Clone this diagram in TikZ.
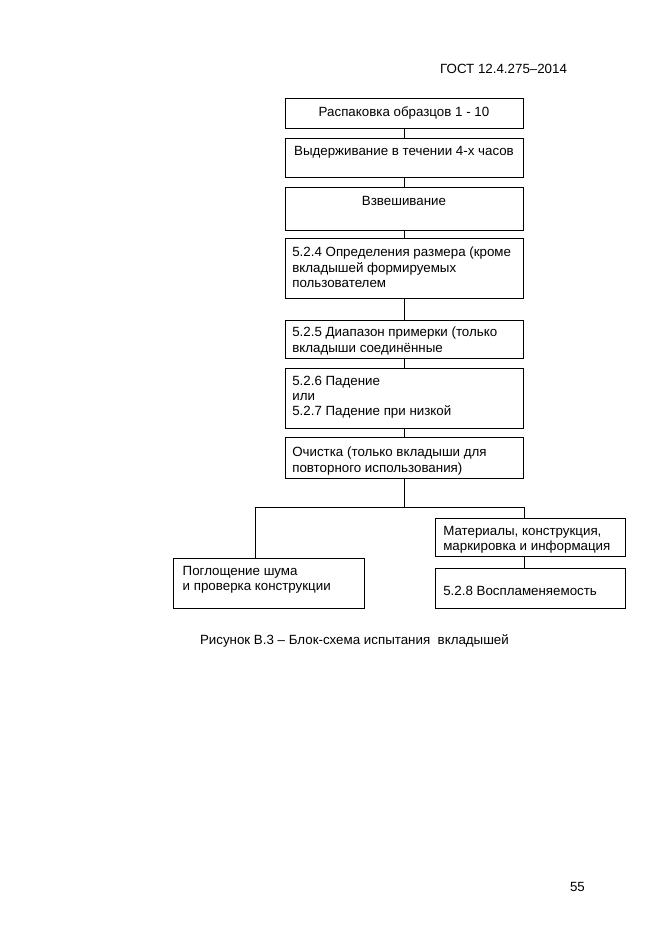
\documentclass[tikz,border=0pt]{standalone}
\usepackage{fontspec}
\setmainfont{Liberation Sans}
\begin{document}
\begin{tikzpicture}[x=0.9pt,y=-0.9pt,
  every node/.style={inner sep=0pt, outer sep=0pt},
  stepbox/.style={draw, line width=0.8pt, minimum width=214.2pt},
  sidebox/.style={draw, line width=0.8pt},
  conn/.style={line width=0.8pt},
  basefont/.style={font=\fontsize{12}{13.8}\selectfont},
  ctxt/.style={basefont, anchor=base},
  ltxt/.style={basefont, anchor=north west, align=left},
  btxt/.style={basefont, anchor=base west}
]
\fill[white] (0,0) rectangle (661,936);
\useasboundingbox (0,0) rectangle (661,936);

% header, caption, page number
\node[basefont, anchor=base east] (hdr) at (567,73) {ГОСТ 12.4.275–2014};
\node[btxt] (cap) at (200,644) {Рисунок В.3 – Блок-схема испытания \ вкладышей};
\node[btxt] (pg) at (570,891) {55};

% boxes
\node[stepbox, minimum height=27pt]   (b1) at (404,113) {};
\node[stepbox, minimum height=35.1pt] (b2) at (404,157.5) {};
\node[stepbox, minimum height=38.7pt] (b3) at (404,208.5) {};
\node[stepbox, minimum height=54pt]   (b4) at (404,268) {};
\node[stepbox, minimum height=34.2pt] (b5) at (404,339) {};
\node[stepbox, minimum height=54pt]   (b6) at (404,398) {};
\node[stepbox, minimum height=36.9pt] (b7) at (404,457.5) {};
\node[sidebox, minimum width=171.9pt, minimum height=45pt]  (L)  at (268.5,583) {};
\node[sidebox, minimum width=171pt,   minimum height=34.2pt] (R1) at (530,537) {};
\node[sidebox, minimum width=171pt,   minimum height=36pt]  (R2) at (530,588) {};

% texts
\node[ctxt] (t1) at (404,116.7) {Распаковка образцов 1 - 10};
\node[ctxt] (t2) at (404,155) {Выдерживание в течении 4-х часов};
\node[ctxt] (t3) at (404,205) {Взвешивание};
\node[ltxt] (t4) at (292.3,246) {\strut 5.2.4 Определения размера (кроме\\вкладышей формируемых\\пользователем};
\node[ltxt] (t5) at (292.3,326) {\strut 5.2.5 Диапазон примерки (только\\вкладыши соединённые};
\node[ltxt] (t6) at (292.3,374.3) {\strut 5.2.6 Падение\\или\\5.2.7 Падение при низкой};
\node[ltxt] (t7) at (292.3,446) {\strut Очистка (только вкладыши для\\повторного использования)};
\node[ltxt] (tL) at (182.7,564.3) {\strut Поглощение шума\\и проверка конструкции};
\node[ltxt] (tR1) at (443.3,524.3) {\strut Материалы, конструкция,\\маркировка и информация};
\node[btxt] (tR2) at (443.3,595) {5.2.8 Воспламеняемость};

% connectors
\draw[conn] (b1.south) -- (b2.north);
\draw[conn] (b2.south) -- (b3.north);
\draw[conn] (b3.south) -- (b4.north);
\draw[conn] (b4.south) -- (b5.north);
\draw[conn] (b5.south) -- (b6.north);
\draw[conn] (b6.south) -- (b7.north);
\coordinate (j) at (404,507);
\coordinate (jl) at (255,507);
\coordinate (jr) at (524,507);
\draw[conn] (b7.south) -- (j);
\draw[conn] (jl) -- (jr);
\draw[conn] (jl) -- (jl |- L.north);
\draw[conn] (jr) -- (jr |- R1.north);
\draw[conn] (jr |- R1.south) -- (jr |- R2.north);
\end{tikzpicture}
\end{document}
